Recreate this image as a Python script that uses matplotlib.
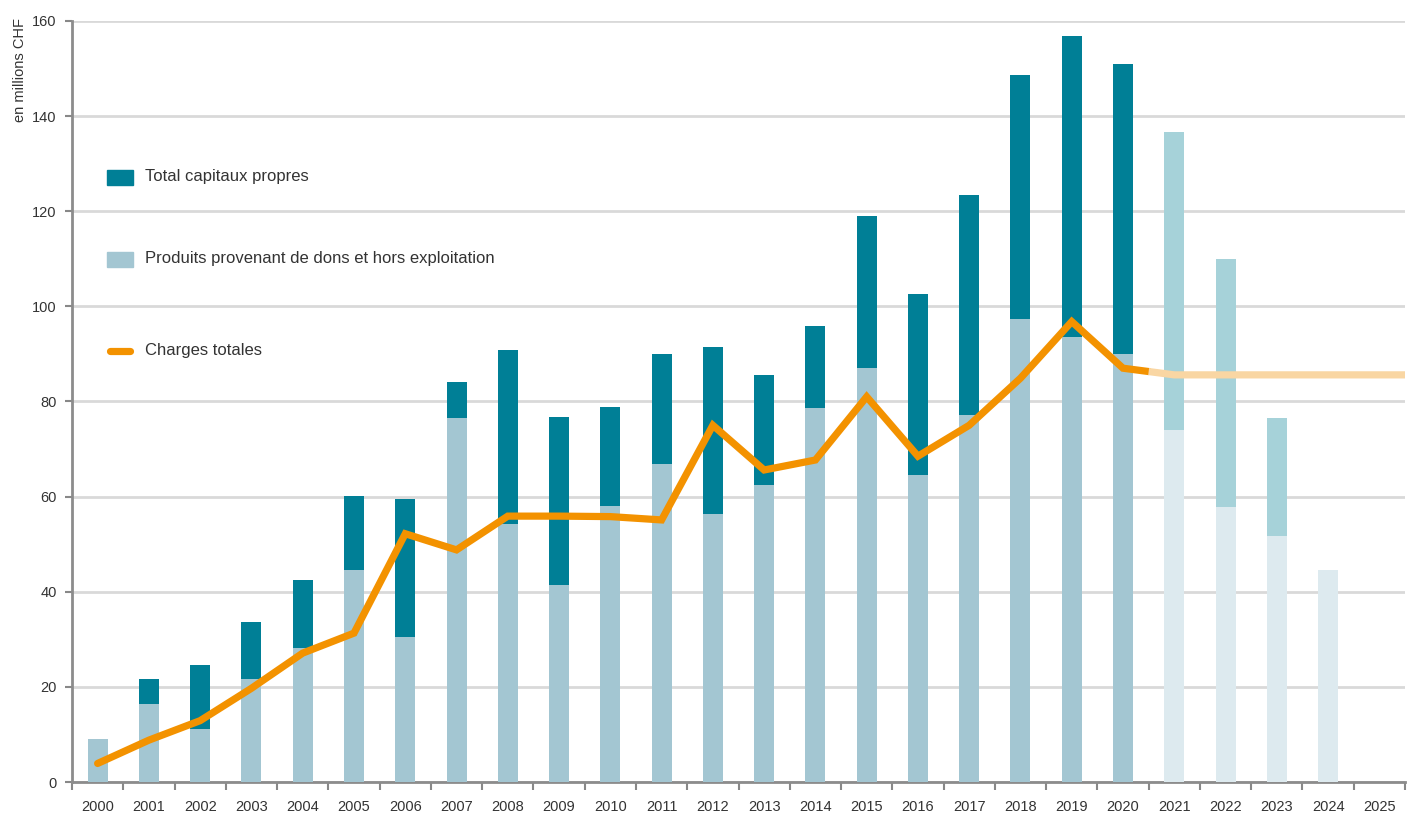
import numpy as np
import matplotlib
matplotlib.use("Agg")
import matplotlib.pyplot as plt
from matplotlib.patches import Rectangle
from matplotlib.lines import Line2D

plt.rcParams['font.family'] = ['Liberation Sans', 'DejaVu Sans']

# données réelles 2000-2020
years = list(range(2000, 2021))
capitaux = [0, 21.6, 24.6, 33.6, 42.4, 60.2, 59.4, 84.1, 90.8, 76.7, 78.8,
            90.0, 91.5, 85.6, 95.9, 119.0, 102.6, 123.4, 148.6, 156.8, 150.9]
produits = [9.0, 16.3, 11.1, 21.6, 28.1, 44.5, 30.5, 76.5, 54.2, 41.4, 58.0,
            66.9, 56.3, 62.4, 78.6, 87.0, 64.5, 77.1, 97.4, 93.6, 90.0]
charges = [3.9, 8.8, 12.9, 19.7, 27.1, 31.3, 52.2, 48.8, 55.9, 55.9, 55.8,
           55.1, 75.0, 65.6, 67.7, 81.0, 68.5, 75.0, 84.9, 96.8, 87.0]

# prévisions 2021-2025
years_f = list(range(2021, 2026))
capitaux_f = [136.6, 110.0, 76.5, 0, 0]
produits_f = [74.0, 57.8, 51.8, 44.6, 0]
charges_f = [85.6, 85.6, 85.6, 85.6, 85.6]

all_years = years + years_f

c_dark = '#007f96'
c_light = '#a3c6d2'
c_fdark = '#a6d2d9'
c_flight = '#ddeaef'
c_orange = '#f39200'
c_lorange = '#f9d6a3'
c_text = '#333333'

fig = plt.figure(figsize=(14.07, 8.14), dpi=100)
ax = fig.add_axes([72/1407, 32/814, 1333/1407, 761/814])

w = 0.39
ax.bar(years, capitaux, width=w, color=c_dark, zorder=2)
ax.bar(years, produits, width=w, color=c_light, zorder=3)
ax.bar(years_f, capitaux_f, width=w, color=c_fdark, zorder=2)
ax.bar(years_f, produits_f, width=w, color=c_flight, zorder=3)

# ligne charges : réelle puis prévision (transition à mi-chemin 2020-2021)
mid_x = (years[-1] + years_f[0]) / 2
mid_y = (charges[-1] + charges_f[0]) / 2
ax.plot(years + [mid_x], charges + [mid_y], color=c_orange, lw=5.2,
        solid_capstyle='round', solid_joinstyle='miter', zorder=4)
end_x = years_f[-1] + 0.5
ax.plot([mid_x] + years_f + [end_x], [mid_y] + charges_f + [charges_f[-1]],
        color=c_lorange, lw=5.2, solid_capstyle='butt', solid_joinstyle='miter',
        zorder=5)

ax.set_xlim(all_years[0] - 0.5, all_years[-1] + 0.5)
ax.set_ylim(0, 160)
ax.set_yticks(np.arange(0, 161, 20))
ax.yaxis.grid(True, color='#d9d9d9', lw=2, zorder=0)
ax.set_axisbelow(True)

ax.set_xticks(np.arange(all_years[0] - 0.5, all_years[-1] + 0.6, 1))
ax.set_xticklabels([])
ax.set_xticks(all_years, minor=True)
ax.set_xticklabels([str(y) for y in all_years], minor=True)
ax.tick_params(axis='x', which='major', length=6, width=1.5, color='#888888', direction='out')
ax.tick_params(axis='x', which='minor', length=0, pad=13, labelsize=10.5, labelcolor=c_text)
ax.tick_params(axis='y', length=5, width=1.5, color='#888888', pad=6,
               labelsize=10.5, labelcolor=c_text)

for s in ['top', 'right']:
    ax.spines[s].set_visible(False)
for s in ['left', 'bottom']:
    ax.spines[s].set_color('#8c8c8c')
    ax.spines[s].set_linewidth(2)

fig.text(20/1407, 1 - 18/814, 'en millions CHF', rotation=90, ha='center', va='top',
         fontsize=10.5, color=c_text)

# légende
def fx(px):
    return px / 1407

def fy(py):
    return 1 - py / 814

fig.patches.append(Rectangle((fx(107), fy(185)), fx(26), 15/814, color=c_dark,
                             transform=fig.transFigure))
fig.patches.append(Rectangle((fx(107), fy(267)), fx(26), 15/814, color=c_light,
                             transform=fig.transFigure))
fig.lines.append(Line2D([fx(110), fx(130)], [fy(351), fy(351)], color=c_orange, lw=5.2,
                        solid_capstyle='round', transform=fig.transFigure))
legend_labels = ['Total capitaux propres',
                 'Produits provenant de dons et hors exploitation',
                 'Charges totales']
for lab, py in zip(legend_labels, [177, 259, 351]):
    fig.text(fx(145), fy(py), lab, ha='left', va='center', fontsize=12, color=c_text)

fig.savefig('out.png', dpi=100)
